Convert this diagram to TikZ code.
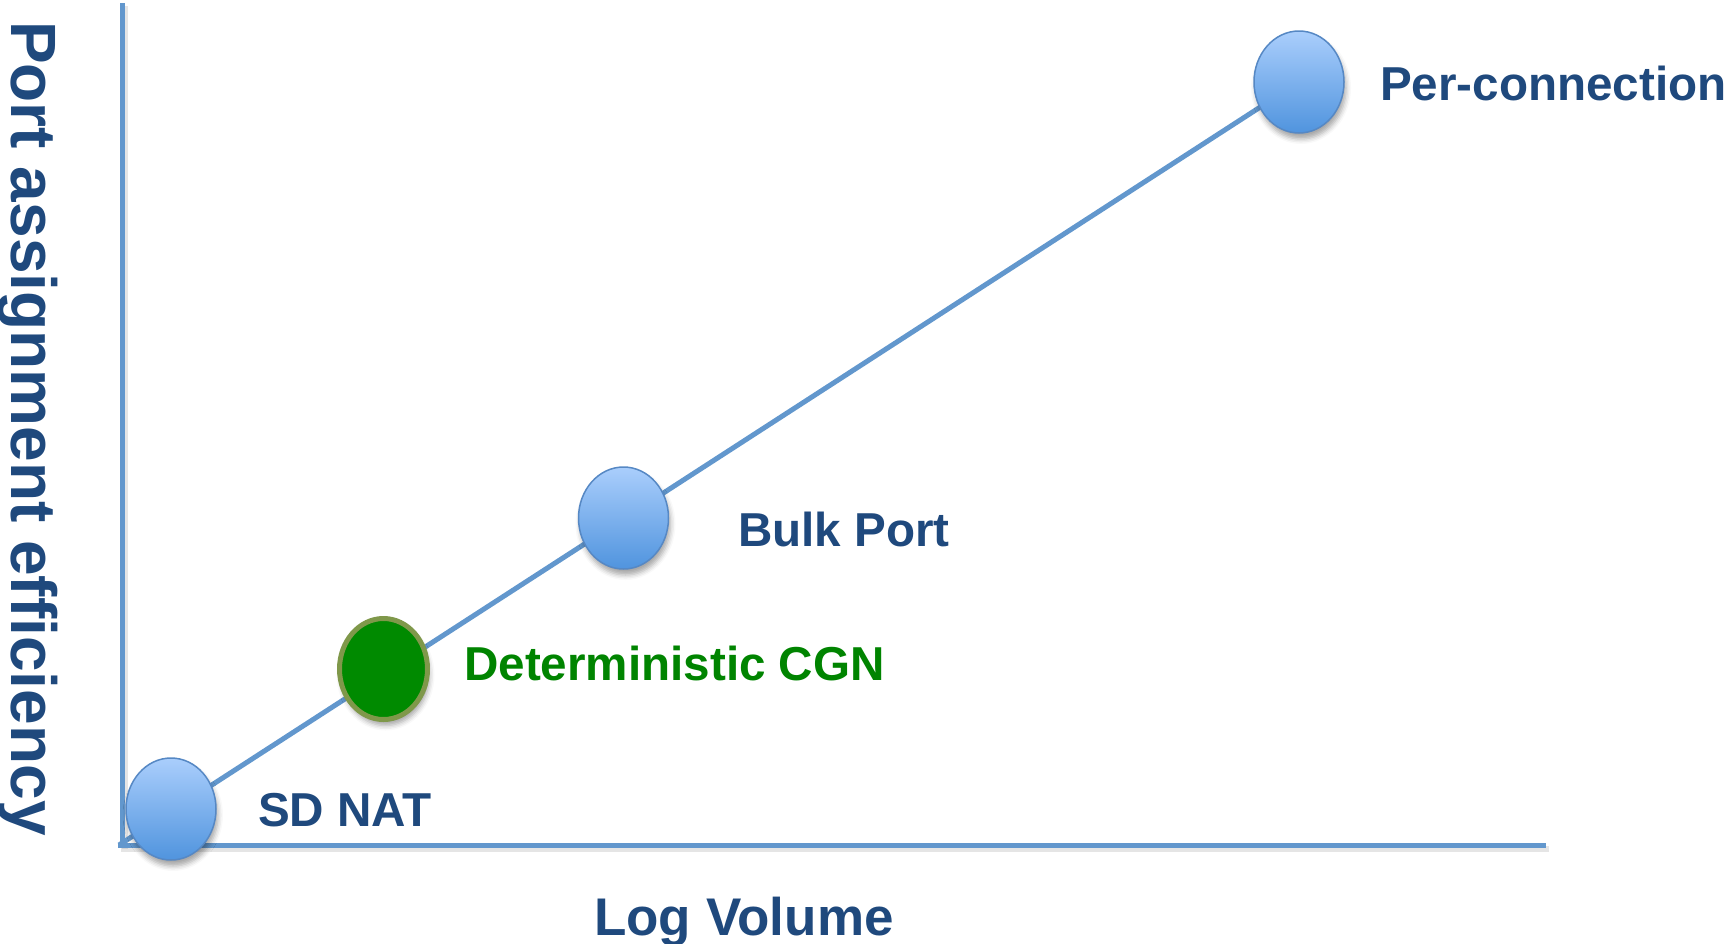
\documentclass[tikz,border=0pt]{standalone}
\usepackage{fontspec}
\setmainfont{Liberation Sans}
\usetikzlibrary{shapes.geometric,shadows.blur,backgrounds}
\definecolor{axisblue}{RGB}{98,151,205}
\definecolor{txtblue}{RGB}{31,73,125}
\definecolor{txtgreen}{RGB}{0,132,0}
\definecolor{fillgreen}{RGB}{0,138,0}
\definecolor{olive}{RGB}{127,152,74}
\definecolor{balltop}{RGB}{170,206,252}
\definecolor{ballbot}{RGB}{80,148,222}
\definecolor{ballline}{RGB}{86,136,196}
\tikzset{
  axisline/.style={draw=axisblue,line width=5pt},
  shadowline/.style={draw=black!40,line width=6pt,opacity=0.25},
  ball/.style={shape=ellipse,inner sep=0pt,minimum width=90pt,minimum height=102pt,
    top color=balltop,bottom color=ballbot,draw=ballline,line width=1.5pt,
    blur shadow={shadow xshift=2pt,shadow yshift=-6pt,shadow blur radius=5pt,shadow opacity=35}},
  greenball/.style={shape=ellipse,inner sep=0pt,minimum width=88pt,minimum height=101pt,
    fill=fillgreen,draw=olive,line width=5pt,
    blur shadow={shadow xshift=2pt,shadow yshift=-6pt,shadow blur radius=5pt,shadow opacity=35}},
  lbl/.style={anchor=base west,inner sep=0pt,font=\fontsize{47.6}{56}\selectfont\bfseries,text=txtblue},
  glbl/.style={lbl,text=txtgreen},
}
\begin{document}
\begin{tikzpicture}[x=1pt,y=-1pt]
\useasboundingbox (0,0) rectangle (1725,943);
% nodes
\node[ball] (per) at (1299,82) {};
\node[ball] (bulk) at (623.5,518) {};
\node[greenball] (det) at (383.5,669) {};
\node[ball] (sd) at (171,809) {};
% axes and trend line behind the nodes
\coordinate (top) at (122,3);
\coordinate (corner) at (122,845);
\coordinate (cornerL) at (118,845);
\coordinate (right) at (1546,845);
\coordinate (start) at (119,845);
\coordinate (stop) at (1299,82);
\begin{pgfonlayer}{background}
\draw[shadowline] (125,6) -- (125,849);
\draw[shadowline] (121,849) -- (1549,849);
\draw[axisline] (top) -- (corner);
\draw[axisline] (cornerL) -- (right);
\draw[axisline] (start) -- (per.center);
\end{pgfonlayer}
% labels
\node[lbl] (sdl) at (258,826) {SD NAT};
\node[glbl] (detl) at (464,680) {Deterministic CGN};
\node[lbl] (bulkl) at (738,546) {Bulk Port};
\node[lbl] (perl) at (1380,100) {Per-connection};
\node[lbl,font=\fontsize{53}{60}\selectfont\bfseries] (xl) at (594,935) {Log Volume};
\node[lbl,rotate=-90,font=\fontsize{64}{72}\selectfont\bfseries] (yl) at (12,21) {Port assignment efficiency};
\end{tikzpicture}
\end{document}
